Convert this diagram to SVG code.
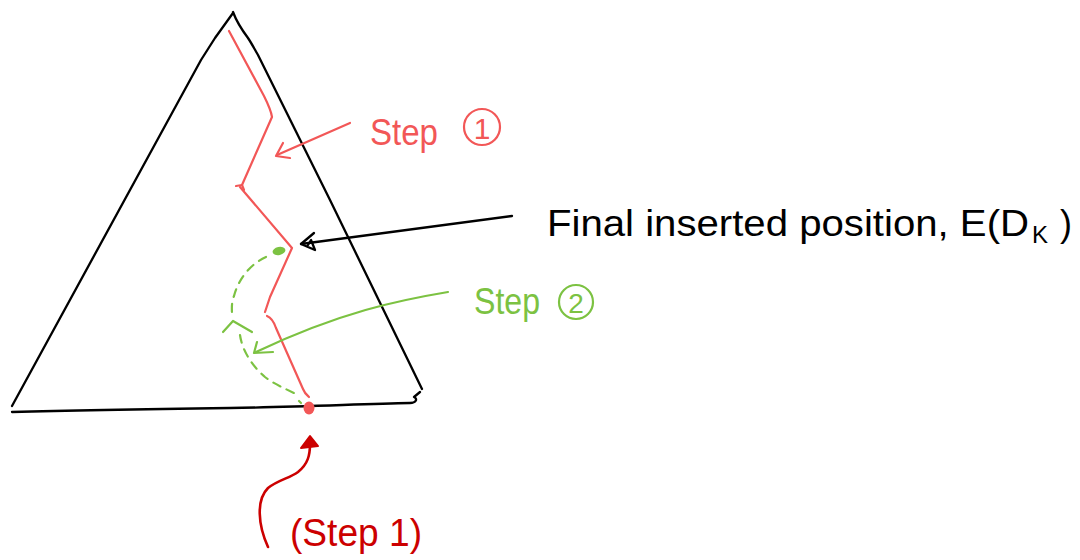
<svg xmlns="http://www.w3.org/2000/svg" width="1080" height="560" viewBox="0 0 1080 560">
<style>
.ink{fill:none;stroke-linecap:round;stroke-linejoin:round}
.blk{stroke:#000;stroke-width:2.3}
.red{stroke:#f25757;stroke-width:2.2}
.grn{stroke:#7cc242;stroke-width:2.2}
.drd{stroke:#cc0000;stroke-width:2.6}
.hand{font-family:"Liberation Sans",Arial,sans-serif}
</style>
<rect width="1080" height="560" fill="#fff"/>
<g id="triangle">
<path class="ink blk" d="M233,12 C236,20 242,30 248,38 C252,44 255,50 258,55 L330,200 L422,389"/>
<path class="ink blk" d="M233,13 L215,38 L201,60 L12,406"/>
<path class="ink blk" d="M12,412 C80,410 150,409 230,408 C300,407 360,404 410,403 C416,403 418,399 414,397 L420,392"/>
</g>
<g id="red-path">
<path class="ink red" d="M229,31 L264,96 C268,104 271,110 272,117 L242,185"/>
<path class="ink red" d="M236,186 L242,185 L244,190"/>
<path class="ink red" d="M240,187 L292,248 L270,297 L265,312"/>
<path class="ink red" d="M267,316 C272,318 274,322 276,328 L303,389 C305,394 308,396 309,397"/>
</g>
<g id="green-path">
<ellipse cx="279" cy="251" rx="6.5" ry="4" fill="#7cc242" transform="rotate(-12 279 251)"/>
<path class="ink grn" stroke-dasharray="8,7" d="M266,257 C250,264 238,280 234,296 C231,304 232,310 232,314"/>
<path class="ink grn" d="M223,332 L233,321 L252,332"/>
<path class="ink grn" stroke-dasharray="8,7" d="M240,335 C242,350 252,366 265,377 C274,384 284,388 296,394"/>
<path class="ink grn" d="M299,401 L301,403"/>
</g>
<g id="connectors">
<path class="ink red" d="M350,123 L277,155"/>
<path class="ink red" d="M283,143 L276,156 L290,158"/>
<path class="ink blk" d="M512,216 L301,244"/>
<path class="ink blk" d="M314,233 L301,244 L315,250 L311,240 L308,245"/>
<path class="ink grn" d="M448,292 C400,300 340,312 256,352"/>
<path class="ink grn" d="M257,342 L254,353 L273,352"/>
<path class="ink drd" d="M268,547 C258,525 256,500 268,488 C278,480 290,478 298,472 C308,464 310,455 310,444"/>
<path d="M301,448 L310,436 L318,446 Z" fill="#cc0000" stroke="#cc0000" stroke-width="2" stroke-linejoin="round"/>
</g>
<ellipse id="red-dot" cx="309" cy="408" rx="5.5" ry="6.5" fill="#f25757"/>
<g id="label-step1" class="hand" fill="#f25757">
<text x="370" y="145" font-size="36" textLength="68" lengthAdjust="spacingAndGlyphs">Step</text>
<circle cx="482" cy="127" r="18" fill="none" stroke="#f25757" stroke-width="2.2"/>
<text x="482" y="139" font-size="30" text-anchor="middle">1</text>
</g>
<g id="label-final" class="hand" fill="#000">
<text x="547" y="236" font-size="36" textLength="482" lengthAdjust="spacingAndGlyphs">Final inserted position, E(D</text>
<text x="1032" y="243" font-size="24">K</text>
<text x="1060" y="236" font-size="36">)</text>
</g>
<g id="label-step2" class="hand" fill="#7cc242">
<text x="474" y="314" font-size="36" textLength="66" lengthAdjust="spacingAndGlyphs">Step</text>
<circle cx="576" cy="302" r="17" fill="none" stroke="#7cc242" stroke-width="2.2"/>
<text x="576" y="313" font-size="28" text-anchor="middle">2</text>
</g>
<g id="label-step1-paren" class="hand" fill="#cc0000">
<text x="290" y="546" font-size="38" textLength="132" lengthAdjust="spacingAndGlyphs">(Step 1)</text>
</g>
</svg>
